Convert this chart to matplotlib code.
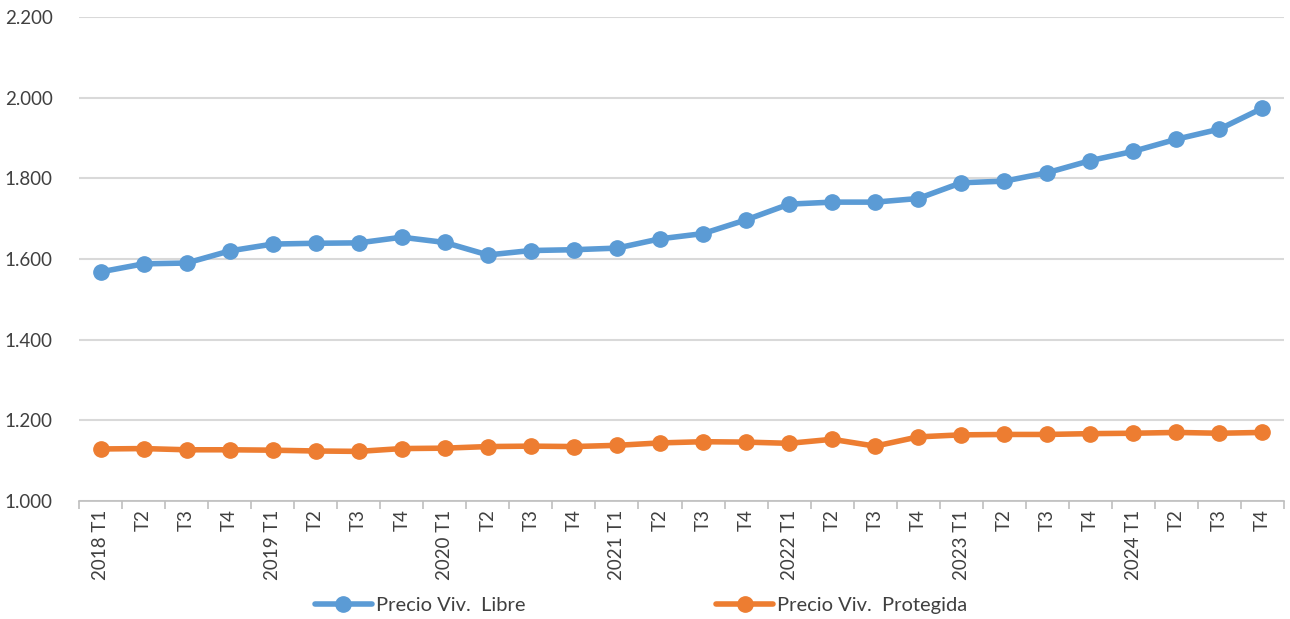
import matplotlib
matplotlib.use("Agg")
import matplotlib.pyplot as plt
import numpy as np

years = ["2018", "2019", "2020", "2021", "2022", "2023", "2024"]
quarters = ["T1", "T2", "T3", "T4"]
labels = []
for y in years:
    for q in quarters:
        labels.append(f"{y} {q}" if q == "T1" else q)

libre = [1568, 1588, 1590, 1620, 1637, 1639, 1640, 1654, 1641, 1610, 1621, 1623, 1627,
         1650, 1663, 1697, 1736, 1741, 1741, 1750, 1789, 1793, 1814, 1844, 1867, 1897, 1922, 1974]
protegida = [1129, 1130, 1127, 1127, 1126, 1124, 1123, 1130, 1131, 1135, 1136, 1135, 1138,
             1144, 1147, 1146, 1143, 1153, 1136, 1159, 1164, 1165, 1165, 1167, 1168, 1170, 1168, 1170]

plt.rcParams['font.family'] = ['Lato', 'DejaVu Sans']

fig = plt.figure(figsize=(12.9, 6.19), dpi=100)
ax = fig.add_axes([79/1290, 1-501/619, (1284-79)/1290, (501-17)/619])

x = np.arange(len(labels))
blue = "#5B9BD5"
orange = "#ED7D31"
ax.plot(x, libre, color=blue, lw=4, marker="o", ms=11, label="Precio Viv.  Libre", solid_capstyle="round")
ax.plot(x, protegida, color=orange, lw=4, marker="o", ms=11, label="Precio Viv.  Protegida", solid_capstyle="round")

ax.set_xlim(-0.5, len(labels) - 0.5)
ax.set_ylim(1000, 2200)
yt = np.arange(1000, 2201, 200)
ax.set_yticks(yt)
ax.set_yticklabels([f"{v/1000:.3f}" for v in yt])
ax.yaxis.grid(True, color="#D9D9D9", lw=1.5)
ax.set_axisbelow(True)
for s in ["top", "right", "left"]:
    ax.spines[s].set_visible(False)
ax.spines["bottom"].set_color("#BFBFBF")
ax.spines["bottom"].set_linewidth(1.2)
ax.tick_params(axis="y", length=0, labelsize=13.5, colors="#404040", pad=19)

ax.set_xticks(x)
ax.set_xticklabels(labels, rotation=90, fontsize=13.5, color="#404040")
ax.tick_params(axis="x", length=0, pad=6)
ax.set_xticks(np.arange(-0.5, len(labels), 1), minor=True)
ax.tick_params(axis="x", which="minor", length=6, color="#BFBFBF", width=1.2)

leg = fig.legend(loc="lower center", bbox_to_anchor=(0.497, -0.022), ncol=2, frameon=False,
                 fontsize=14.5, columnspacing=9.5, handlelength=2.8, handletextpad=0.2)
for t in leg.get_texts():
    t.set_color("#404040")

fig.savefig("out.png", dpi=100)
